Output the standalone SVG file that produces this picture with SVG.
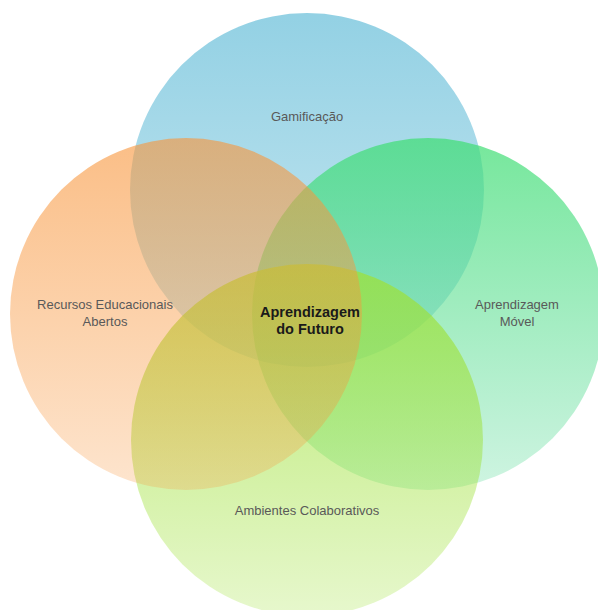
<svg xmlns="http://www.w3.org/2000/svg" width="598" height="610" viewBox="0 0 598 610">
  <defs>
    <linearGradient id="gBlue" x1="0" y1="0" x2="0" y2="1">
      <stop offset="0" stop-color="#60bbd7" stop-opacity="0.68"/>
      <stop offset="1" stop-color="#60bbd7" stop-opacity="0.32"/>
    </linearGradient>
    <linearGradient id="gGreen" x1="0" y1="0" x2="0" y2="1">
      <stop offset="0" stop-color="#40de74" stop-opacity="0.72"/>
      <stop offset="1" stop-color="#3ed488" stop-opacity="0.25"/>
    </linearGradient>
    <linearGradient id="gLime" x1="0" y1="0" x2="0" y2="1">
      <stop offset="0" stop-color="#9ee137" stop-opacity="0.74"/>
      <stop offset="1" stop-color="#9ee137" stop-opacity="0.25"/>
    </linearGradient>
    <linearGradient id="gOrange" x1="0" y1="0" x2="0" y2="1">
      <stop offset="0" stop-color="#f8963c" stop-opacity="0.62"/>
      <stop offset="1" stop-color="#f8963c" stop-opacity="0.25"/>
    </linearGradient>
  </defs>
  <style>
    .lbl { font-family: "Liberation Sans", Arial, sans-serif; font-size: 13px; fill: #595959; text-anchor: middle; }
    .ctr { font-family: "Liberation Sans", Arial, sans-serif; font-size: 14.5px; font-weight: bold; fill: #1a1a1a; text-anchor: middle; }
  </style>
  <rect width="598" height="610" fill="#ffffff"/>
  <g id="gamificacao">
    <circle cx="307" cy="190" r="177" fill="url(#gBlue)"/>
  </g>
  <g id="aprendizagem-movel">
    <circle cx="428" cy="314" r="176" fill="url(#gGreen)"/>
  </g>
  <g id="ambientes-colaborativos">
    <circle cx="307" cy="440" r="176" fill="url(#gLime)"/>
  </g>
  <g id="recursos-educacionais">
    <circle cx="186" cy="314" r="176" fill="url(#gOrange)"/>
  </g>
  <g id="labels">
    <text class="lbl" x="307" y="121">Gamificação</text>
    <text class="lbl" x="105" y="309">Recursos Educacionais</text>
    <text class="lbl" x="105" y="326">Abertos</text>
    <text class="lbl" x="517" y="309">Aprendizagem</text>
    <text class="lbl" x="517" y="326">Móvel</text>
    <text class="lbl" x="307" y="515">Ambientes Colaborativos</text>
  </g>
  <g id="aprendizagem-do-futuro">
    <text class="ctr" x="310" y="317">Aprendizagem</text>
    <text class="ctr" x="310" y="334">do Futuro</text>
  </g>
</svg>
